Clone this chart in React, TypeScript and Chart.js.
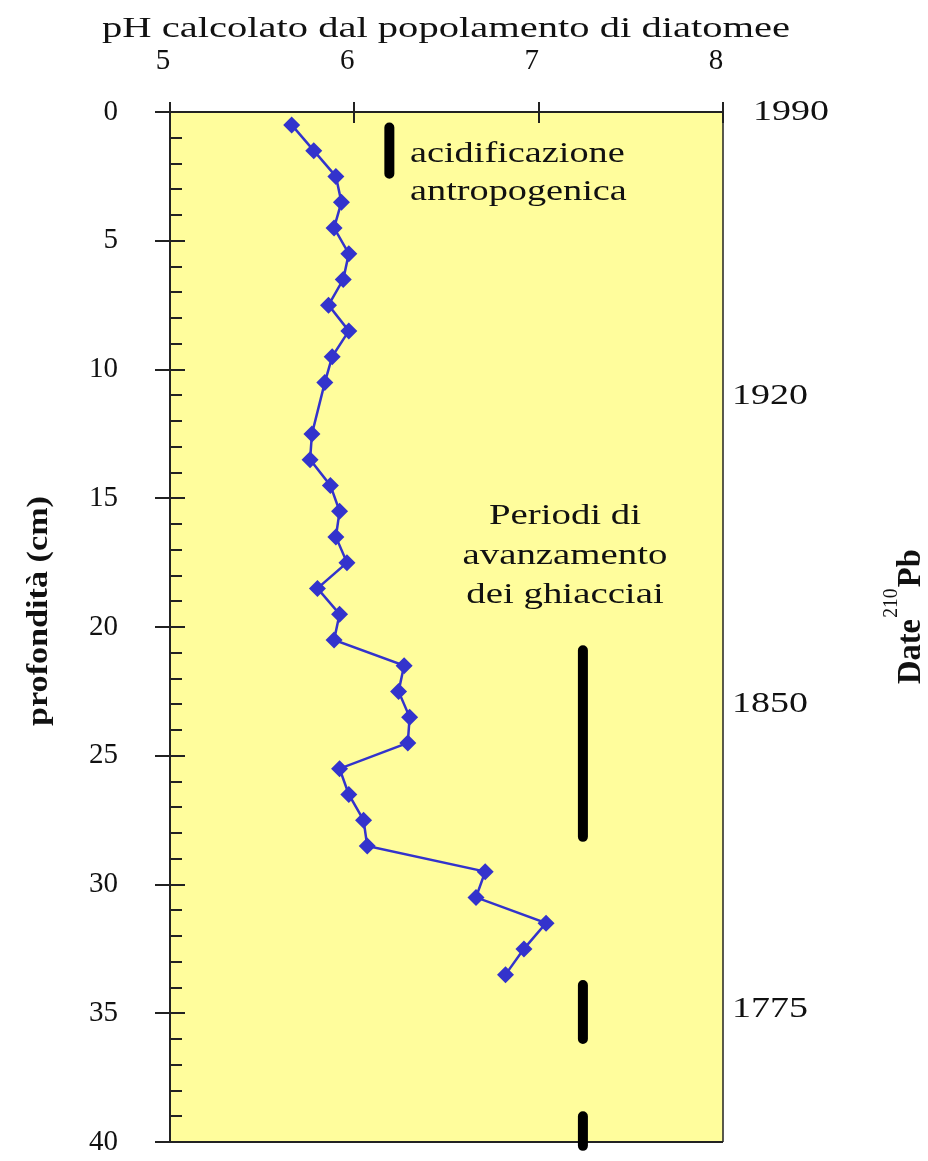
import React, { useEffect, useRef } from 'react';
import { Chart, registerables } from 'chart.js';

Chart.register(...registerables);

// ---- data ----
const depthCm = [0.5, 1.5, 2.5, 3.5, 4.5, 5.5, 6.5, 7.5, 8.5, 9.5, 10.5, 12.5, 13.5, 14.5, 15.5, 16.5, 17.5, 18.5, 19.5, 20.5, 21.5, 22.5, 23.5, 24.5, 25.5, 26.5, 27.5, 28.5, 29.5, 30.5, 31.5, 32.5, 33.5];
const phValues = [5.66, 5.78, 5.9, 5.93, 5.89, 5.97, 5.94, 5.86, 5.97, 5.88, 5.84, 5.77, 5.76, 5.87, 5.92, 5.9, 5.96, 5.8, 5.92, 5.89, 6.27, 6.24, 6.3, 6.29, 5.92, 5.97, 6.05, 6.07, 6.71, 6.66, 7.04, 6.92, 6.82];

const phTicks = [5, 6, 7, 8];
const depthMajorTicks = [0, 5, 10, 15, 20, 25, 30, 35, 40];
const dateLabels = ['1990', '1920', '1850', '1775'];
const dateDepths = [0, 11.05, 23.0, 34.85];

const acidPH = 6.19;
const acidSpan = [0.6, 2.4];
const glacierPH = 7.24;
const glacierStarts = [20.9, 33.9, 39.0];
const glacierEnds = [28.15, 36.0, 40.15];

const titleTop = 'pH calcolato dal popolamento di diatomee';
const titleLeft = 'profondità (cm)';
const acidText = ['acidificazione', 'antropogenica'];
const glacierText = ['Periodi di', 'avanzamento', 'dei ghiacciai'];

// ---- styles ----
const SERIF = "'Liberation Serif', 'Times New Roman', serif";
const INK = '#111111';
const AXIS = '#222222';
const BLUE = '#3333CC';
const YELLOW = '#FFFD9C';

function stretchedText(ctx: CanvasRenderingContext2D, text: string, x: number, y: number, font: string, sx: number, align: CanvasTextAlign = 'left', baseline: CanvasTextBaseline = 'alphabetic') {
  ctx.save();
  ctx.font = font;
  ctx.fillStyle = INK;
  ctx.textAlign = align;
  ctx.textBaseline = baseline;
  ctx.translate(x, y);
  ctx.scale(sx, 1);
  ctx.fillText(text, 0, 0);
  ctx.restore();
}

const decorPlugin = {
  id: 'decor',
  beforeDraw(chart: any) {
    const { ctx, chartArea: a } = chart;
    ctx.save();
    ctx.fillStyle = '#ffffff';
    ctx.fillRect(0, 0, chart.width, chart.height);
    ctx.fillStyle = YELLOW;
    ctx.fillRect(a.left, a.top, a.right - a.left, a.bottom - a.top);
    ctx.restore();
  },
  beforeDatasetsDraw(chart: any) {
    const { ctx, chartArea: a } = chart;
    const ys = chart.scales.y;
    const xs = chart.scales.x;
    ctx.save();
    ctx.strokeStyle = AXIS;
    ctx.lineWidth = 2;
    // inner ticks of the depth axis
    ys.ticks.forEach((t: any) => {
      const py = Math.round(ys.getPixelForValue(t.value));
      const len = depthMajorTicks.includes(t.value) ? 15 : 12;
      ctx.beginPath();
      ctx.moveTo(a.left, py);
      ctx.lineTo(a.left + len, py);
      ctx.stroke();
    });
    // inner ticks of the pH axis
    xs.ticks.forEach((t: any) => {
      const px = Math.round(xs.getPixelForValue(t.value));
      ctx.beginPath();
      ctx.moveTo(px, a.top);
      ctx.lineTo(px, a.top + 11);
      ctx.stroke();
    });
    // right and bottom frame
    ctx.lineWidth = 1.5;
    ctx.beginPath();
    ctx.moveTo(a.right, a.top);
    ctx.lineTo(a.right, a.bottom);
    ctx.stroke();
    ctx.lineWidth = 2;
    ctx.beginPath();
    ctx.moveTo(a.left, a.bottom);
    ctx.lineTo(a.right, a.bottom);
    ctx.stroke();
    ctx.restore();
  },
  afterDraw(chart: any) {
    const { ctx } = chart;
    const ys = chart.scales.y;
    const f29 = `29px ${SERIF}`;

    // top title stretched to the reference width
    ctx.save();
    ctx.font = f29;
    const tw = ctx.measureText(titleTop).width;
    ctx.restore();
    stretchedText(ctx, titleTop, 102, 37, f29, 688 / tw);

    // annotations
    acidText.forEach((s, i) => stretchedText(ctx, s, 410, 162 + i * 38, f29, 1.32));
    glacierText.forEach((s, i) => stretchedText(ctx, s, 565, 524 + i * 39.5, f29, 1.34, 'center'));

    // right date axis
    dateLabels.forEach((s, i) => {
      const py = ys.getPixelForValue(dateDepths[i]);
      stretchedText(ctx, s, i === 0 ? 753 : 732, py, f29, 1.31, 'left', 'middle');
    });

    // left axis title (rotated)
    ctx.save();
    ctx.font = `bold 23px ${SERIF}`;
    const lw = ctx.measureText(titleLeft).width;
    ctx.translate(40, 611);
    ctx.rotate(-Math.PI / 2);
    ctx.scale(230 / lw, 1.25);
    ctx.fillStyle = INK;
    ctx.textAlign = 'center';
    ctx.textBaseline = 'middle';
    ctx.fillText(titleLeft, 0, 0);
    ctx.restore();

    // right axis title: Date 210Pb
    ctx.save();
    ctx.translate(920, 684);
    ctx.rotate(-Math.PI / 2);
    ctx.scale(1.3, 1.33);
    ctx.fillStyle = INK;
    ctx.textAlign = 'left';
    ctx.textBaseline = 'alphabetic';
    ctx.font = `bold 25px ${SERIF}`;
    ctx.fillText('Date', 0, 0);
    let w = ctx.measureText('Date').width + 1;
    ctx.font = `15px ${SERIF}`;
    ctx.fillText('210', w, -17);
    w += ctx.measureText('210').width + 1;
    ctx.font = `bold 25px ${SERIF}`;
    ctx.fillText('Pb', w, 0);
    ctx.restore();
  },
};

export default function App() {
  const ref = useRef<HTMLCanvasElement | null>(null);

  useEffect(() => {
    document.body.style.margin = '0';
    const canvas = ref.current;
    if (!canvas) return;

    const phSeries = depthCm.map((d, i) => ({ x: phValues[i], y: d }));
    const barStyle = {
      showLine: true,
      borderColor: '#000000',
      backgroundColor: '#000000',
      borderWidth: 10,
      borderCapStyle: 'round' as const,
      pointRadius: 0,
      clip: false as const,
    };

    const chart = new Chart(canvas, {
      type: 'scatter',
      data: {
        datasets: [
          {
            label: 'pH',
            data: phSeries,
            showLine: true,
            borderColor: BLUE,
            backgroundColor: BLUE,
            borderWidth: 2.5,
            pointStyle: 'rectRot',
            pointRadius: 8.5,
            pointBackgroundColor: BLUE,
            pointBorderColor: BLUE,
            pointBorderWidth: 0,
          },
          {
            label: 'acidificazione',
            data: acidSpan.map((d) => ({ x: acidPH, y: d })),
            ...barStyle,
          },
          ...glacierStarts.map((s, i) => ({
            label: 'ghiacciai ' + i,
            data: [
              { x: glacierPH, y: s },
              { x: glacierPH, y: glacierEnds[i] },
            ],
            ...barStyle,
          })),
        ],
      },
      options: {
        responsive: false,
        animation: false,
        devicePixelRatio: 1,
        layout: { padding: { top: 0, left: 0, right: 205, bottom: 19 } },
        plugins: {
          legend: { display: false },
          tooltip: { enabled: false },
        },
        scales: {
          x: {
            type: 'linear',
            position: 'top',
            min: 5,
            max: 8,
            afterBuildTicks: (s: any) => {
              s.ticks = phTicks.map((v) => ({ value: v }));
            },
            afterFit: (s: any) => {
              s.height = 112;
            },
            grid: { display: true, drawOnChartArea: false, drawTicks: true, tickLength: 10, color: AXIS, lineWidth: 2 },
            border: { display: true, color: AXIS, width: 2 },
            ticks: {
              color: INK,
              font: { family: SERIF, size: 29 },
              padding: 23,
              labelOffset: -7,
              maxRotation: 0,
              autoSkip: false,
            },
          },
          y: {
            type: 'linear',
            position: 'left',
            reverse: true,
            min: 0,
            max: 40,
            afterFit: (s: any) => {
              s.width = 170;
              s.paddingTop = 17;
              s.paddingBottom = 17;
            },
            grid: {
              display: true,
              drawOnChartArea: false,
              drawTicks: true,
              tickLength: 15,
              lineWidth: 2,
              color: (c: any) => (c.tick && depthMajorTicks.includes(c.tick.value) ? AXIS : 'rgba(0,0,0,0)'),
            },
            border: { display: true, color: AXIS, width: 2 },
            ticks: {
              stepSize: 1,
              autoSkip: false,
              color: INK,
              font: { family: SERIF, size: 29 },
              padding: 37,
              callback: (v: any) => (depthMajorTicks.includes(Number(v)) ? String(v) : ''),
            },
          },
        },
      },
      plugins: [decorPlugin],
    });

    return () => chart.destroy();
  }, []);

  return <canvas ref={ref} width={928} height={1161} style={{ display: 'block' }} />;
}
